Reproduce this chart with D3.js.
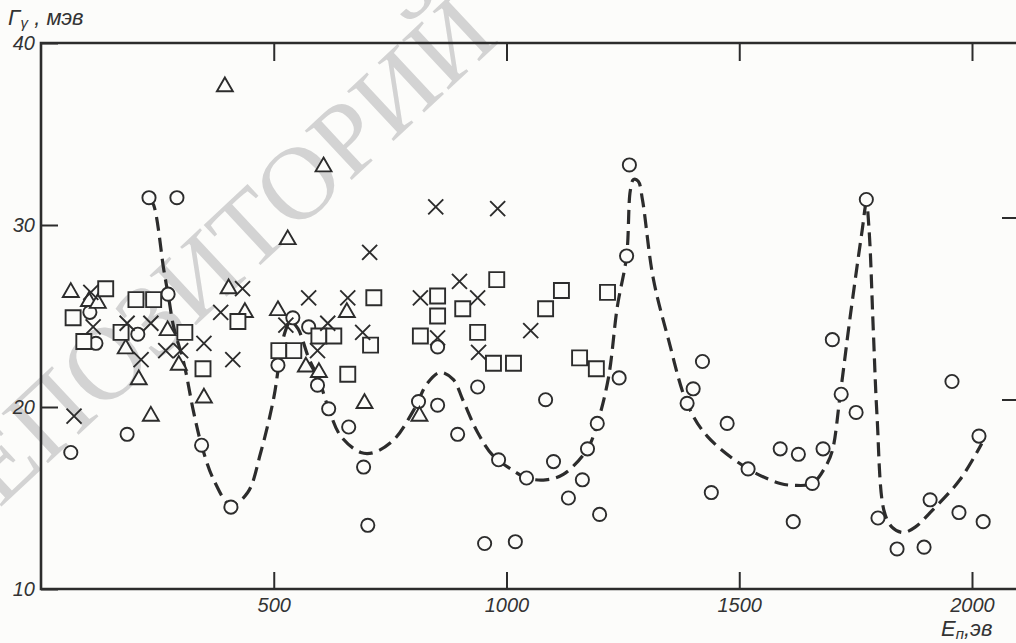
<!DOCTYPE html>
<html>
<head>
<meta charset="utf-8">
<script src="https://cdn.jsdelivr.net/npm/d3@7"></script>
<style>
  html, body { margin: 0; padding: 0; background: #fcfcfa; }
  svg { display: block; }
  .tick text { font-family: "Liberation Sans", sans-serif; font-style: italic; font-size: 20px; fill: #333; }
</style>
</head>
<body>
<div id="chart"></div>
<script>
// points: [E_n (эв), Γγ (мэв)]
const circles = [
  [64,17.5],[185,18.5],[118,23.5],[208,24.0],[105,25.2],[232,31.5],[292,31.5],[273,26.2],
  [345,17.9],[408,14.5],[509,22.3],[541,24.9],[575,24.4],[594,21.2],[618,19.9],[661,18.9],
  [693,16.7],[702,13.5],[811,20.3],[852,20.1],[852,23.3],[895,18.5],[938,21.1],[983,17.1],
  [1043,16.1],[953,12.5],[1019,12.6],[1084,20.4],[1101,17.0],[1133,15.0],[1163,16.0],[1174,17.7],
  [1195,19.1],[1200,14.1],[1242,21.6],[1258,28.3],[1264,33.3],[1388,20.2],[1401,21.0],[1421,22.5],
  [1440,15.3],[1474,19.1],[1519,16.6],[1588,17.7],[1616,13.7],[1627,17.4],[1657,15.8],[1680,17.7],
  [1700,23.7],[1719,20.7],[1751,19.7],[1773,31.4],[1798,13.9],[1839,12.2],[1897,12.3],[1910,14.9],
  [1957,21.4],[1972,14.2],[2015,18.4],[2024,13.7]
];
const triangles = [
  [395,37.6],[607,33.2],[530,29.2],[64,26.3],[103,25.8],[122,25.7],[403,26.5],[438,25.2],
  [509,25.3],[272,24.2],[182,23.2],[296,22.3],[210,21.5],[350,20.5],[236,19.5],[657,25.2],
  [569,22.2],[597,21.9],[695,20.2],[813,19.5]
];
const crosses = [
  [107,26.3],[433,26.5],[386,25.2],[526,24.5],[112,24.4],[185,24.6],[236,24.6],[215,22.6],
  [268,23.1],[300,23.1],[350,23.5],[412,22.6],[71,19.5],[848,31.0],[981,30.9],[706,28.5],
  [899,26.9],[575,26.0],[659,26.0],[815,26.0],[938,26.0],[616,24.6],[691,24.1],[852,23.8],
  [594,23.1],[940,23.0],[1052,24.2]
];
const squares = [
  [139,26.5],[69,24.9],[204,25.9],[242,25.9],[423,24.7],[172,24.1],[309,24.1],[92,23.6],
  [348,22.1],[511,23.1],[543,23.1],[715,26.0],[852,26.1],[852,25.0],[906,25.4],[979,27.0],
  [597,23.9],[629,23.9],[708,23.4],[815,23.9],[938,24.1],[972,22.4],[1015,22.4],[659,21.8],
  [1084,25.4],[1118,26.4],[1217,26.3],[1157,22.7],[1193,22.1]
];
// dashed curve
const curve = [
  [232,31.5],[242,31.1],[264,27.5],[273,26.2],[285,24.4],[307,22.4],[328,19.7],[345,17.9],
  [371,16.0],[408,14.6],[444,15.3],[472,17.5],[500,20.5],[511,22.3],[524,24.1],[536,24.7],
  [552,24.3],[575,22.7],[597,21.5],[618,19.9],[644,18.4],[687,17.5],[715,17.5],[758,18.2],
  [800,19.8],[830,21.3],[858,21.9],[886,21.5],[906,20.4],[938,18.6],[972,17.3],[1015,16.5],
  [1043,16.1],[1084,16.0],[1122,16.3],[1174,17.7],[1195,19.1],[1219,21.6],[1238,25.5],[1258,28.3],
  [1266,31.9],[1273,32.5],[1283,32.4],[1292,31.4],[1315,27.1],[1348,23.7],[1388,20.2],[1431,18.4],
  [1519,16.6],[1588,15.8],[1616,15.7],[1657,15.8],[1687,16.8],[1700,17.6],[1717,20.7],[1738,24.9],
  [1764,29.7],[1773,31.2],[1779,29.7],[1788,24.2],[1796,19.5],[1811,14.3],[1828,13.4],[1852,13.1],
  [1878,13.4],[1910,14.2],[1974,16.0],[2021,18.0]
];
const xTicks = [500, 1000, 1500, 2000];
const yTicks = [10, 20, 30, 40];

const W = 1016, H = 643;
const ink = "#2c2c2c", paper = "#fcfcfa";
const plotLeft = 41, plotTop = 43, plotBottom = 589;

const svg = d3.select("#chart").append("svg")
  .attr("width", W).attr("height", H);

const x = d3.scaleLinear().domain([0, 2000]).range([plotLeft, 972]);
const y = d3.scaleLinear().domain([10, 40]).range([plotBottom, plotTop]);

// watermark of the scan
svg.append("text")
  .attr("transform", "translate(-43,548) rotate(-43)")
  .attr("font-family", "Liberation Serif, serif")
  .attr("font-size", 104)
  .attr("fill", "#d3d3d3")
  .text("РЕПОЗИТОРИЙ");

// dashed line
svg.append("path")
  .datum(curve)
  .attr("fill", "none")
  .attr("stroke", ink)
  .attr("stroke-width", 3.2)
  .attr("stroke-dasharray", "14,7")
  .attr("d", d3.line().x(d => x(d[0])).y(d => y(d[1])).curve(d3.curveCatmullRom));

// axes (ticks point inward)
svg.append("g")
  .attr("transform", `translate(0,${plotBottom})`)
  .call(d3.axisBottom(x).tickValues(xTicks).tickSize(-17).tickPadding(9).tickFormat(d3.format("d")))
  .call(g => g.select(".domain").remove());
svg.append("g")
  .attr("transform", `translate(0,${plotTop})`)
  .call(d3.axisTop(x).tickValues(xTicks).tickSize(-18).tickFormat(""))
  .call(g => g.select(".domain").remove());
svg.append("g")
  .attr("transform", `translate(${plotLeft},0)`)
  .call(d3.axisLeft(y).tickValues(yTicks).tickSize(-17).tickPadding(6))
  .call(g => g.select(".domain").remove());
svg.selectAll(".tick line").attr("stroke", ink).attr("stroke-width", 2);

// ticks of the cut-off right axis
svg.append("g").selectAll("line").data([20, 30]).join("line")
  .attr("x1", 1002).attr("x2", W)
  .attr("y1", d => y(d) - 7).attr("y2", d => y(d) - 7)
  .attr("stroke", ink).attr("stroke-width", 2);

// frame
svg.append("path")
  .attr("d", `M${W},${plotTop}H${plotLeft}V${plotBottom}H${W}`)
  .attr("fill", "none").attr("stroke", ink).attr("stroke-width", 2.6);

// markers
const mk = svg.append("g").attr("fill", paper).attr("stroke", ink).attr("stroke-width", 1.9);
mk.selectAll("circle").data(circles).join("circle")
  .attr("cx", d => x(d[0])).attr("cy", d => y(d[1])).attr("r", 6.6);
mk.selectAll("path.tri").data(triangles).join("path").attr("class", "tri")
  .attr("transform", d => `translate(${x(d[0])},${y(d[1])})`)
  .attr("d", d3.symbol(d3.symbolTriangle, 110));
mk.selectAll("path.sq").data(squares).join("path").attr("class", "sq")
  .attr("transform", d => `translate(${x(d[0])},${y(d[1])})`)
  .attr("d", d3.symbol(d3.symbolSquare, 225));
mk.selectAll("path.cr").data(crosses).join("path").attr("class", "cr")
  .attr("transform", d => `translate(${x(d[0])},${y(d[1])})`)
  .attr("d", "M-7.5,-7.5L7.5,7.5M-7.5,7.5L7.5,-7.5");

// axis titles
const yt = svg.append("text")
  .attr("x", 8).attr("y", 25)
  .attr("font-family", "Liberation Sans, sans-serif").attr("font-style", "italic")
  .attr("font-size", 22).attr("fill", "#333");
yt.append("tspan").text("Γ");
yt.append("tspan").attr("font-size", 15).attr("dy", 3).text("γ");
yt.append("tspan").attr("dy", -3).text(" , мэв");

const xt = svg.append("text")
  .attr("x", 941).attr("y", 636)
  .attr("font-family", "Liberation Sans, sans-serif").attr("font-style", "italic")
  .attr("font-size", 22).attr("fill", "#333");
xt.append("tspan").text("E");
xt.append("tspan").attr("font-size", 15).attr("dy", 3).text("п");
xt.append("tspan").attr("dy", -3).text(",эв");
</script>
</body>
</html>
